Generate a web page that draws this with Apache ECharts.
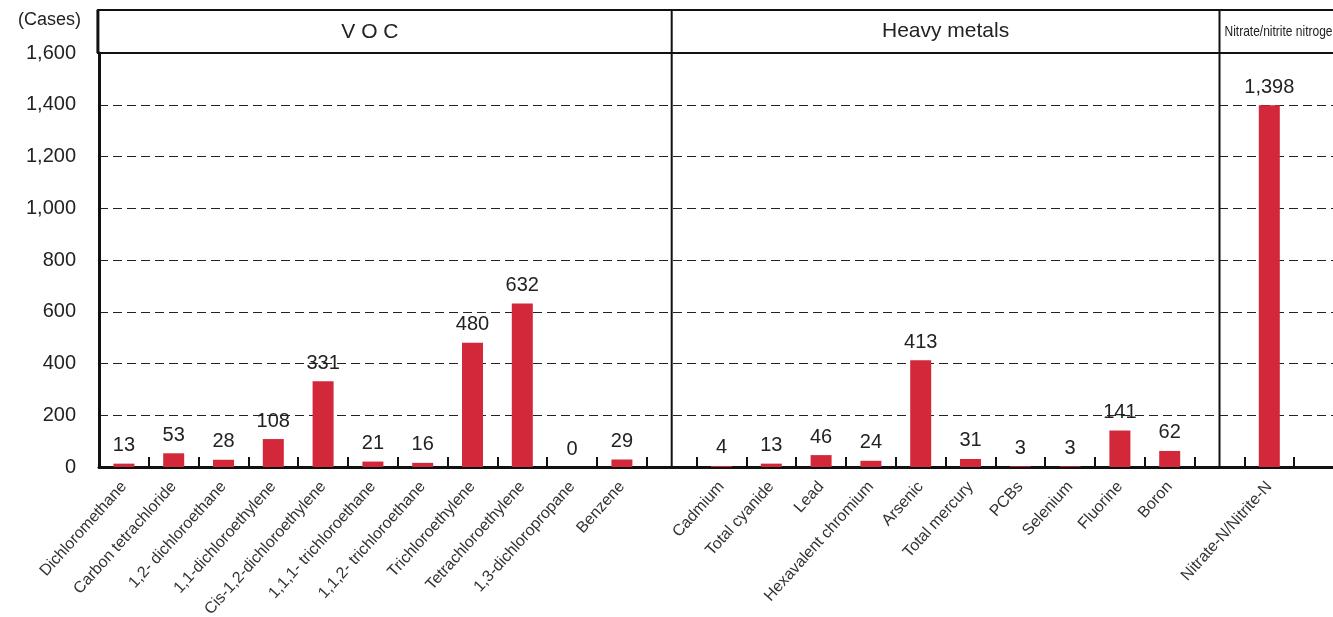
<!DOCTYPE html>
<html>
<head>
<meta charset="utf-8">
<script src="https://cdn.jsdelivr.net/npm/echarts@6/dist/echarts.min.js"></script>
<style>
html,body{margin:0;padding:0;background:#fff;}
#chart{width:1333px;height:617px;}
</style>
</head>
<body>
<div id="chart"></div>
<script>
// groups of substances, cases per substance
var vocNames=['Dichloromethane','Carbon tetrachloride','1,2- dichloroethane','1,1-dichloroethylene','Cis-1,2-dichloroethylene','1,1,1- trichloroethane','1,1,2- trichloroethane','Trichloroethylene','Tetrachloroethylene','1,3-dichloropropane','Benzene'];
var vocValues=[13,53,28,108,331,21,16,480,632,0,29];
var metalNames=['Cadmium','Total cyanide','Lead','Hexavalent chromium','Arsenic','Total mercury','PCBs','Selenium','Fluorine','Boron'];
var metalValues=[4,13,46,24,413,31,3,3,141,62];
var nitrateNames=['Nitrate-N/Nitrite-N'];
var nitrateValues=[1398];
var groupTitles=['V O C','Heavy metals','Nitrate/nitrite nitrogen'];
var yTicks=[0,200,400,600,800,1000,1200,1400,1600];

var categories=[].concat(vocNames,['_gap1'],metalNames,['_gap2'],nitrateNames,['_gap3']);
var values=[].concat(vocValues,[null],metalValues,[null],nitrateValues,[null]);

function fmt(v){
    return String(v).replace(/\B(?=(\d{3})+(?!\d))/g,',');
}

var chart=echarts.init(document.getElementById('chart'));
var option={
    animation:false,
    backgroundColor:'#fff',
    grid:{left:99,top:53,width:1245,height:414,outerBoundsMode:'none',containLabel:false},
    xAxis:{
        type:'category',
        data:categories,
        axisLine:{lineStyle:{color:'#111',width:3}},
        axisTick:{show:true,inside:true,length:10,interval:0,alignWithLabel:false,lineStyle:{color:'#111',width:2}},
        axisLabel:{
            rotate:48,interval:0,fontSize:16,color:'#333',margin:17,
            fontFamily:'Liberation Sans',
            formatter:function(v){return v.charAt(0)=='_'?'':v;}
        }
    },
    yAxis:{
        type:'value',
        min:yTicks[0],max:yTicks[yTicks.length-1],interval:200,
        name:'(Cases)',
        nameLocation:'end',
        nameGap:24,
        nameTextStyle:{fontSize:18,color:'#222',align:'right',padding:[0,18,0,0],fontFamily:'Liberation Sans'},
        axisLine:{show:true,lineStyle:{color:'#111',width:3}},
        axisTick:{show:false},
        axisLabel:{fontSize:20,color:'#222',margin:23,fontFamily:'Liberation Sans',formatter:fmt},
        splitLine:{lineStyle:{color:'#222',width:1.2,type:[9,5]}}
    },
    series:[{
        type:'bar',
        data:values,
        barWidth:21,
        itemStyle:{color:'#d2283a'},
        label:{
            show:true,position:'top',distance:8,fontSize:20,color:'#222',
            fontFamily:'Liberation Sans',
            formatter:function(p){return fmt(p.value);}
        }
    }]
};
chart.setOption(option);

// header band and group separators, placed from the axes
var yTop=chart.convertToPixel({yAxisIndex:0},1600);
var yBase=chart.convertToPixel({yAxisIndex:0},0);
var headTop=yTop-43;
var xLeft=chart.convertToPixel({xAxisIndex:0},vocNames[0])-27;
var sep1=chart.convertToPixel({xAxisIndex:0},'_gap1');
var sep2=chart.convertToPixel({xAxisIndex:0},'_gap2');
var vocMid=(chart.convertToPixel({xAxisIndex:0},vocNames[0])+chart.convertToPixel({xAxisIndex:0},vocNames[vocNames.length-1]))/2;
var metMid=(chart.convertToPixel({xAxisIndex:0},metalNames[0])+chart.convertToPixel({xAxisIndex:0},metalNames[metalNames.length-1]))/2;
var headMid=(headTop+yTop)/2;
var lineStyle={stroke:'#111',lineWidth:2};

chart.setOption({graphic:[
    {type:'line',shape:{x1:xLeft,y1:headTop,x2:1340,y2:headTop},style:lineStyle,z:100},
    {type:'line',shape:{x1:xLeft,y1:yTop,x2:1340,y2:yTop},style:lineStyle,z:100},
    {type:'line',shape:{x1:xLeft+1,y1:headTop,x2:xLeft+1,y2:yTop},style:{stroke:'#111',lineWidth:3},z:100},
    {type:'line',shape:{x1:sep1,y1:headTop,x2:sep1,y2:yBase},style:lineStyle,z:100},
    {type:'line',shape:{x1:sep2,y1:headTop,x2:sep2,y2:yBase},style:lineStyle,z:100},
    {type:'text',x:vocMid-3,y:headMid+1,style:{text:groupTitles[0],fontSize:21,fill:'#222',align:'center',verticalAlign:'middle',fontFamily:'Liberation Sans'},z:100},
    {type:'text',x:metMid,y:headMid,style:{text:groupTitles[1],fontSize:21,fill:'#222',align:'center',verticalAlign:'middle',fontFamily:'Liberation Sans'},z:100},
    {type:'text',x:sep2+5,y:headMid,scaleX:0.8,style:{text:groupTitles[2],fontSize:15,fill:'#222',align:'left',verticalAlign:'middle',fontFamily:'Liberation Sans'},z:100}
]});
</script>
</body>
</html>
